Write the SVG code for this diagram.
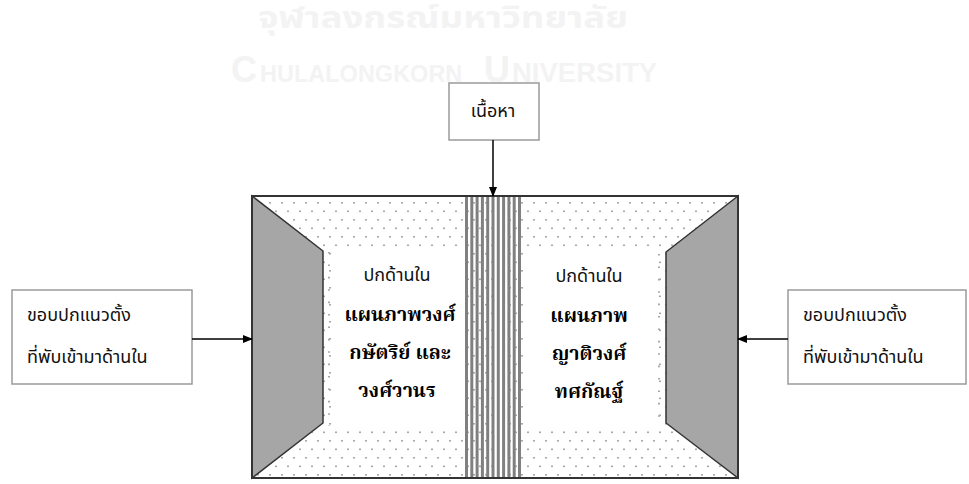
<svg xmlns="http://www.w3.org/2000/svg" width="969" height="484" viewBox="0 0 969 484">
<defs>
<style>
.wm{fill:#f3f3f3;font-family:"Liberation Sans","Noto Sans Thai","Noto Sans",sans-serif;font-weight:bold}
.box{fill:#fff;stroke:#9a9a9a;stroke-width:1.5}
.t{font-family:"Noto Sans Thai","Noto Sans","Liberation Sans",sans-serif;font-size:18px;fill:#111}
.b{font-family:"Noto Serif Thai","Noto Sans Thai","Noto Sans",serif;font-size:19.5px;font-weight:bold;fill:#000}
.edge{stroke:#000;stroke-width:1.5;fill:none}
.trap{fill:#a6a6a6;stroke:#333;stroke-width:1.5}
</style>
<pattern id="dots" patternUnits="userSpaceOnUse" x="257" y="202" width="12" height="17">
<rect x="0" y="0" width="2" height="1.6" fill="#a8a8a8"/>
<rect x="6" y="8.5" width="2" height="1.6" fill="#a8a8a8"/>
</pattern>
<marker id="ah" markerWidth="10" markerHeight="10" refX="9" refY="5" orient="auto" markerUnits="userSpaceOnUse">
<path d="M0,1 L10,5 L0,9 Z" fill="#000"/>
</marker>
</defs>
<rect width="969" height="484" fill="#fff"/>

<g id="watermark">
<text class="wm" x="258" y="28" font-size="30" textLength="370" lengthAdjust="spacingAndGlyphs">จุฬาลงกรณ์มหาวิทยาลัย</text>
<text class="wm" x="231" y="82" font-size="36">C</text>
<text class="wm" x="260" y="82" font-size="23.5">HULALONGKORN</text>
<text class="wm" x="484" y="82" font-size="36">U</text>
<text class="wm" x="512" y="82" font-size="27.5">NIVERSITY</text>
</g>

<g id="book">
<rect x="252" y="196" width="486" height="282" fill="#fff"/>
<rect x="252" y="196" width="486" height="282" fill="url(#dots)"/>
<rect x="332" y="250" width="133" height="176" fill="#fff"/>
<rect x="524" y="250" width="131" height="176" fill="#fff"/>
<line x1="329" y1="252" x2="329" y2="426" stroke="#a8a8a8" stroke-width="2" stroke-dasharray="1.6 10.8"/>
<line x1="659" y1="254" x2="659" y2="426" stroke="#a8a8a8" stroke-width="2" stroke-dasharray="1.6 10.8"/>
<g id="spine" fill="#808080">
<rect x="465" y="196" width="3" height="282"/>
<rect x="470.3" y="196" width="3" height="282"/>
<rect x="475.6" y="196" width="3" height="282"/>
<rect x="480.9" y="196" width="3" height="282"/>
<rect x="486.2" y="196" width="3" height="282"/>
<rect x="491.5" y="196" width="3" height="282"/>
<rect x="496.8" y="196" width="3" height="282"/>
<rect x="502.1" y="196" width="3" height="282"/>
<rect x="507.4" y="196" width="3" height="282"/>
<rect x="512.7" y="196" width="3" height="282"/>
<rect x="518" y="196" width="3" height="282"/>
</g>
<polygon class="trap" points="252,196 323,251 323,423 252,478"/>
<polygon class="trap" points="738,196 666,252 666,423 738,478"/>
<rect x="252" y="196" width="486" height="282" fill="none" stroke="#333" stroke-width="2"/>
</g>

<g id="left-panel-text">
<text class="t" x="397" y="281" text-anchor="middle">ปกด้านใน</text>
<text class="b" x="400" y="321" text-anchor="middle">แผนภาพวงศ์</text>
<text class="b" x="400" y="359" text-anchor="middle">กษัตริย์ และ</text>
<text class="b" x="397" y="397" text-anchor="middle">วงศ์วานร</text>
</g>
<g id="right-panel-text">
<text class="t" x="589" y="282" text-anchor="middle">ปกด้านใน</text>
<text class="b" x="589" y="322" text-anchor="middle">แผนภาพ</text>
<text class="b" x="589" y="360" text-anchor="middle">ญาติวงศ์</text>
<text class="b" x="589" y="398" text-anchor="middle">ทศกัณฐ์</text>
</g>

<g id="node-content">
<rect class="box" x="449" y="83" width="90" height="57"/>
<text class="t" x="493" y="117" text-anchor="middle">เนื้อหา</text>
</g>
<g id="node-left">
<rect class="box" x="12" y="290" width="180" height="94"/>
<text class="t" x="27" y="321">ขอบปกแนวตั้ง</text>
<text class="t" x="27" y="363">ที่พับเข้ามาด้านใน</text>
</g>
<g id="node-right">
<rect class="box" x="788" y="290" width="178" height="94"/>
<text class="t" x="803" y="321">ขอบปกแนวตั้ง</text>
<text class="t" x="803" y="363">ที่พับเข้ามาด้านใน</text>
</g>

<g id="connectors">
<line class="edge" x1="493" y1="140" x2="493" y2="196" marker-end="url(#ah)"/>
<line class="edge" x1="192" y1="339" x2="252" y2="339" marker-end="url(#ah)"/>
<line class="edge" x1="788" y1="339" x2="738" y2="339" marker-end="url(#ah)"/>
</g>
</svg>
